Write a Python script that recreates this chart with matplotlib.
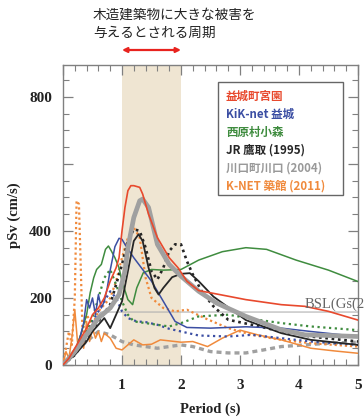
import matplotlib
matplotlib.use("Agg")
import matplotlib.pyplot as plt
from matplotlib.ticker import MultipleLocator, FixedLocator, FixedFormatter
from matplotlib.patches import Rectangle

# ---------------- data ----------------
red_x = [0, 0.1, 0.2, 0.3, 0.4, 0.5, 0.6, 0.7, 0.8, 0.9, 0.95, 1.0, 1.05, 1.1, 1.15, 1.2, 1.3, 1.35, 1.45, 1.6, 1.8, 1.95, 2.1, 2.3, 2.6, 3.1, 3.7, 4.1, 4.5, 5.0]
red_y = [0, 20, 50, 80, 110, 150, 170, 200, 250, 290, 320, 400, 470, 520, 535, 535, 530, 510, 450, 380, 320, 290, 250, 222, 212, 195, 180, 175, 160, 134]

gray_x = [0, 0.2, 0.4, 0.6, 0.8, 0.95, 1.05, 1.1, 1.2, 1.3, 1.35, 1.45, 1.6, 1.8, 2.0, 2.3, 2.6, 3.1, 3.7, 4.1, 4.5, 5.0]
gray_y = [0, 40, 90, 140, 170, 210, 280, 350, 440, 490, 495, 470, 360, 300, 265, 220, 185, 145, 105, 90, 88, 85]

blk_x = [0, 0.2, 0.4, 0.5, 0.6, 0.7, 0.8, 0.9, 1.0, 1.1, 1.2, 1.28, 1.35, 1.45, 1.55, 1.62, 1.7, 1.85, 2.0, 2.15, 2.3, 2.55, 3.1, 3.7, 4.2, 5.0]
blk_y = [0, 30, 70, 100, 120, 140, 110, 150, 190, 280, 370, 390, 370, 290, 230, 210, 230, 262, 272, 274, 250, 204, 134, 95, 75, 60]

blkd_x = [0, 0.2, 0.4, 0.6, 0.8, 0.9, 1.0, 1.1, 1.2, 1.3, 1.4, 1.5, 1.6, 1.7, 1.8, 1.9, 2.0, 2.1, 2.2, 2.35, 2.55, 2.8, 3.2, 3.7, 4.2, 5.0]
blkd_y = [0, 30, 80, 130, 180, 240, 300, 370, 405, 400, 350, 280, 255, 290, 340, 360, 360, 310, 270, 220, 175, 135, 120, 100, 85, 70]

grn_x = [0, 0.2, 0.3, 0.4, 0.46, 0.52, 0.57, 0.65, 0.72, 0.77, 0.82, 0.88, 0.95, 1.0, 1.1, 1.18, 1.25, 1.36, 1.5, 1.7, 2.0, 2.3, 2.7, 3.1, 3.45, 3.95, 4.5, 5.0]
grn_y = [0, 40, 90, 150, 215, 260, 285, 300, 345, 355, 340, 320, 290, 250, 195, 180, 230, 275, 285, 283, 285, 313, 338, 350, 345, 313, 283, 249]

grnd_x = [0, 0.3, 0.5, 0.6, 0.7, 0.8, 0.9, 1.0, 1.1, 1.2, 1.4, 1.6, 1.8, 2.0, 2.3, 2.8, 3.3, 3.7, 4.2, 5.0]
grnd_y = [0, 60, 140, 200, 260, 285, 240, 190, 150, 130, 125, 120, 115, 125, 145, 150, 135, 125, 115, 104]

blu_x = [0, 0.15, 0.25, 0.3, 0.35, 0.4, 0.45, 0.5, 0.55, 0.6, 0.65, 0.7, 0.75, 0.8, 0.88, 0.95, 1.0, 1.05, 1.2, 1.5, 1.75, 1.9, 2.1, 2.5, 3.1, 3.7, 4.2, 5.0]
blu_y = [0, 30, 60, 90, 125, 195, 170, 200, 150, 210, 170, 190, 230, 283, 353, 378, 375, 360, 320, 250, 175, 130, 112, 110, 114, 110, 100, 85]

blud_x = [0, 0.3, 0.5, 0.7, 0.8, 0.9, 1.0, 1.1, 1.25, 1.4, 1.6, 1.8, 2.0, 2.3, 2.8, 3.2, 3.7, 4.2, 5.0]
blud_y = [0, 60, 130, 190, 220, 200, 160, 140, 130, 128, 120, 108, 100, 88, 85, 90, 80, 70, 60]

grayd_x = [0, 0.2, 0.4, 0.6, 0.8, 1.0, 1.2, 1.4, 1.6, 1.8, 2.0, 2.2, 2.5, 2.8, 3.1, 3.4, 3.7, 4.1, 4.5, 5.0]
grayd_y = [0, 40, 70, 100, 90, 70, 60, 55, 50, 55, 60, 55, 40, 36, 36, 45, 55, 60, 65, 68]

org_x = [0, 0.05, 0.1, 0.15, 0.2, 0.25, 0.3, 0.35, 0.4, 0.45, 0.5, 0.55, 0.6, 0.65, 0.7, 0.8, 0.9, 1.0, 1.1, 1.2, 1.35, 1.5, 1.65, 1.8, 2.0, 2.2, 2.45, 2.7, 3.0, 3.3, 3.7, 4.2, 4.6, 5.0]
org_y = [0, 40, 20, 80, 165, 60, 90, 50, 130, 70, 110, 80, 100, 70, 95, 80, 50, 45, 60, 75, 60, 62, 75, 72, 68, 70, 55, 80, 104, 90, 75, 50, 42, 35]

orgd_x = [0, 0.1, 0.15, 0.2, 0.23, 0.27, 0.3, 0.33, 0.4, 0.5, 0.6, 0.7, 0.8, 0.9, 1.0, 1.1, 1.2, 1.3, 1.4, 1.5, 1.7, 1.9, 2.1, 2.4, 2.8, 3.2, 3.7, 4.2, 5.0]
orgd_y = [0, 100, 60, 200, 490, 480, 300, 100, 150, 120, 160, 180, 200, 250, 320, 380, 410, 380, 260, 200, 170, 160, 165, 140, 110, 90, 75, 65, 55]

bsl_x = [0, 0.64, 5.0]
bsl_y = [0, 158, 158]

legend_labels = ["益城町宮園", "KiK-net 益城", "西原村小森", "JR 鷹取 (1995)", "川口町川口 (2004)", "K-NET 築館 (2011)"]
x_ticks = [0, 1, 2, 3, 4, 5]
x_ticklabels = ["", "1", "2", "3", "4", "5"]
y_ticks = [0, 200, 400, 600, 800]
y_ticklabels = ["0", "200", "400", "", "800"]
bsl_label = "BSL(Gs(2"

# ---------------- style ----------------
C_RED = "#e8492d"
C_BLUE = "#3b4ea3"
C_GREEN = "#3f8c3f"
C_BLACK = "#262626"
C_GRAY = "#a0a0a0"
C_ORANGE = "#f08a3c"

fig = plt.figure(figsize=(3.64, 4.19), dpi=100)
ax = fig.add_axes([63/364, 1-365/419, 295/364, 300/419])

ax.axvspan(1, 2, color="#efe5d2", zorder=0, lw=0)

ax.plot(bsl_x, bsl_y, color="#b0b0b0", lw=0.8, zorder=1)

ax.plot(grayd_x, grayd_y, color=C_GRAY, lw=2.4, dashes=(1.5, 1.2), zorder=2)
ax.plot(org_x, org_y, color=C_ORANGE, lw=1.1, zorder=3)
ax.plot(orgd_x, orgd_y, color=C_ORANGE, lw=1.6, linestyle=(0, (1, 1.3)), zorder=3)
ax.plot(blud_x, blud_y, color=C_BLUE, lw=1.6, linestyle=(0, (1, 1.6)), zorder=3)
ax.plot(grnd_x, grnd_y, color=C_GREEN, lw=1.6, linestyle=(0, (1, 1.6)), zorder=3)
ax.plot(blkd_x, blkd_y, color=C_BLACK, lw=1.9, linestyle=(0, (1, 1.4)), zorder=4)
ax.plot(grn_x, grn_y, color=C_GREEN, lw=1.1, zorder=4)
ax.plot(blu_x, blu_y, color=C_BLUE, lw=1.1, zorder=4)
ax.plot(blk_x, blk_y, color=C_BLACK, lw=1.3, zorder=4)
ax.plot(gray_x, gray_y, color=C_GRAY, lw=3.4, zorder=5, solid_capstyle="round")
ax.plot(red_x, red_y, color=C_RED, lw=1.2, zorder=6)

ax.set_xlim(0, 5)
ax.set_ylim(0, 895)

serif = ["Liberation Serif", "DejaVu Serif"]
ax.xaxis.set_major_locator(FixedLocator(x_ticks))
ax.xaxis.set_major_formatter(FixedFormatter(x_ticklabels))
ax.xaxis.set_minor_locator(MultipleLocator(0.2))
ax.yaxis.set_major_locator(FixedLocator(y_ticks))
ax.yaxis.set_major_formatter(FixedFormatter(y_ticklabels))
ax.yaxis.set_minor_locator(MultipleLocator(50))
ax.tick_params(which="both", direction="in", top=True, right=True, colors="#808080",
               labelcolor="#222222")
ax.tick_params(which="major", length=7, width=0.9)
ax.tick_params(axis="x", which="major", pad=10)
ax.tick_params(axis="y", which="major", pad=8)
ax.tick_params(which="minor", length=4, width=0.8)
for lab in ax.get_xticklabels() + ax.get_yticklabels():
    lab.set_family(serif)
    lab.set_fontweight("bold")
    lab.set_fontsize(11)
for s in ax.spines.values():
    s.set_color("#808080")
    s.set_linewidth(1.0)

ax.set_xlabel("Period (s)", family=serif, fontsize=10.5, fontweight="bold", color="#222222", labelpad=8)
ax.set_ylabel("pSv (cm/s)", family=serif, fontsize=10.5, fontweight="bold", color="#222222", labelpad=6)

# BSL label
ax.text(4.1, 172, bsl_label, family=serif, fontsize=10.5, color="#666666", zorder=7, clip_on=False)

# legend box
ax.add_patch(Rectangle((155/295, 1-(195-65)/300), 125/295, 113/300, transform=ax.transAxes,
                       facecolor="white", edgecolor="#666666", lw=1.0, zorder=8))
leg_colors = [C_RED, C_BLUE, C_GREEN, C_BLACK, "#999999", C_ORANGE]
cjk = ["Noto Sans CJK JP", "DejaVu Sans"]
for i, (lab, col) in enumerate(zip(legend_labels, leg_colors)):
    ypix = 96 + i * 18
    ax.text((226-63)/295, (365-ypix)/300, lab, transform=ax.transAxes, color=col,
            family=cjk, fontweight="bold", fontsize=8.3, va="center", ha="left", zorder=9)

# annotation above
fig.text(93/364, 1-24/419, "木造建築物に大きな被害を\n与えるとされる周期", family=cjk,
         fontsize=9.8, va="center", ha="left", linespacing=1.35, color="#222222")
ax.annotate("", xy=(2, 1.05), xytext=(1, 1.05), xycoords=ax.get_xaxis_transform(),
            textcoords=ax.get_xaxis_transform(),
            arrowprops=dict(arrowstyle="<|-|>", color="#e8231e", lw=1.6,
                            mutation_scale=7, shrinkA=0, shrinkB=0), annotation_clip=False)

fig.savefig("out.png", dpi=100)
